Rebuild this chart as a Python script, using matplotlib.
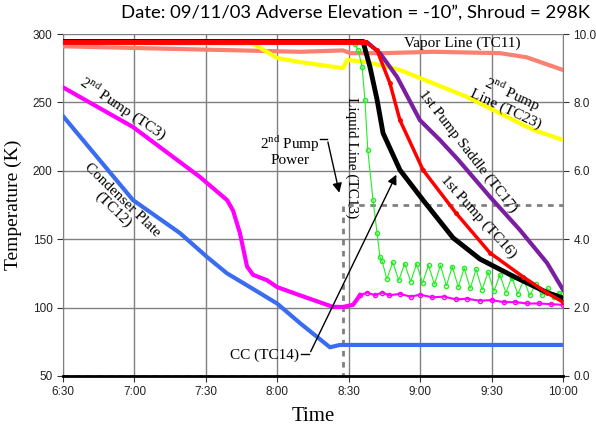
import matplotlib.pyplot as plt
from matplotlib.ticker import FormatStrFormatter

plt.rcParams['mathtext.fontset'] = 'custom'
plt.rcParams['mathtext.rm'] = 'Liberation Serif'

# time in minutes after 6:30
tick_minutes = [0, 30, 60, 90, 120, 150, 180, 210]
tick_labels = ['6:30', '7:00', '7:30', '8:00', '8:30', '9:00', '9:30', '10:00']

vapor_t = [0, 99.5, 117.6, 120.7, 134.4, 155.4, 183.5, 194.7, 210]
vapor_v = [291, 287, 288, 286, 286, 287, 286, 283, 273.7]

line23_t = [0, 79.8, 89.9, 99.5, 117.6, 119.3, 127.7, 141.5, 155.4, 169.7, 183.5, 197.4, 210]
line23_v = [293.6, 293, 282.5, 279.5, 275, 281, 279.5, 273.7, 264, 254, 242, 230, 222.5]

saddle_t = [0, 126, 127.7, 133.1, 140.3, 149.9, 158.3, 166, 179.3, 191.9, 203.3, 210]
saddle_v = [294.5, 294.5, 294, 286, 268.6, 237, 222.5, 208, 181, 156.7, 132.6, 113]

cc_t = [0, 126, 128.9, 131.9, 134.4, 141.5, 151.2, 163.8, 175.1, 189, 203.3, 210]
cc_v = [294.5, 294.5, 276, 252, 227.6, 200.6, 178.6, 151, 135.5, 123, 111, 107]

pump1_t = [0, 126.8, 131.9, 137.3, 141.5, 151.2, 165.1, 179.3, 193.2, 203.3, 210]
pump1_v = [294.5, 294.5, 288, 264, 237, 200.6, 169, 140, 122.5, 110.7, 104]

liquid_t = [0, 122.6, 124, 125.6, 126.8, 128, 130.2, 131.9, 133.1,
            134, 136, 138.5, 141, 143.5, 146, 148.5, 151, 153.5, 156, 158.5, 161,
            163.5, 166, 168.5, 171, 173.5, 176, 178.5, 181, 183.5, 186, 188.5, 191,
            193.5, 196, 198.5, 201, 203.5, 206, 208.5, 210]
liquid_v = [294, 293, 288, 276, 252, 215, 178.6, 154.5, 137,
            134, 121, 133, 120, 132, 119, 132, 118, 131, 117, 131, 116,
            130, 115, 129, 114, 128, 113, 126, 112, 124, 111, 122, 110,
            120, 109, 117, 109, 114, 108, 111, 108]

pump2_t = [0, 29.4, 57.5, 68.9, 71.4, 74.3, 77.3, 79.8, 85.7, 89.9, 99.5, 113.4, 117.6, 121.8, 124.7]
pump2_v = [261, 232, 195.5, 178.6, 171, 154.5, 130, 124, 120, 115, 109, 100.5, 100.5, 102, 109]
pump2_band_t = [124.7, 127.7, 131, 134, 137, 141.5, 146, 150, 155, 160, 165, 169.7, 175, 180, 185, 190, 195, 200, 205, 210]
pump2_band_v = [109, 111, 109, 111, 109, 110, 108, 109.5, 107.5, 108, 106, 106.5, 105, 105.5, 104, 104, 103, 103, 102.5, 102]

plate_t = [0, 29.4, 49.1, 60.5, 68.9, 78.5, 89.9, 99.5, 112.1, 116.3, 210]
plate_v = [240, 178.6, 154.5, 137, 125, 115, 103, 88.7, 71, 72.7, 72.7]

power_t = [0, 117.6, 117.6, 210]
power_v = [0, 0, 5.0, 5.0]

fig = plt.figure(figsize=(5.96, 4.30), dpi=100)
ax = fig.add_axes([0.1057, 0.1256, 0.839, 0.7953])
ax2 = ax.twinx()
ax.set_zorder(ax2.get_zorder() + 1)
ax.patch.set_visible(False)

serif = 'Liberation Serif'

ax.plot(vapor_t, vapor_v, color='#fa8072', lw=3, zorder=3)
ax.plot(line23_t, line23_v, color='#ffff00', lw=3, zorder=3)
ax.plot(plate_t, plate_v, color='#3a6cf0', lw=3, zorder=3)
ax.plot(pump2_t, pump2_v, color='#ff00ff', lw=3, zorder=3)
ax.plot(pump2_band_t, pump2_band_v, color='#ff00ff', lw=1.5, marker='o', ms=3, mfc='none', zorder=3)
ax.plot(liquid_t, liquid_v, color='#22ee22', lw=0.8, marker='o', ms=3, mfc='none', zorder=4)
ax.plot(saddle_t, saddle_v, color='#7b1fa2', lw=3, zorder=4)
ax.plot(cc_t, cc_v, color='black', lw=3.5, zorder=5)
ax.plot(pump1_t, pump1_v, color='#ff0000', lw=2.5, marker='o', ms=2.5, mfc='none', zorder=6)
ax.plot(pump1_t[:2], pump1_v[:2], color='#ff0000', lw=3.5, zorder=7)

ax2.plot(power_t, power_v, color='#808080', lw=2, ls=(0, (2, 2)))

ax.set_xlim(0, 210)
ax.set_ylim(50, 300)
ax.set_yticks([50, 100, 150, 200, 250, 300])
ax.set_xticks(tick_minutes)
ax.set_xticklabels(tick_labels)
ax2.set_ylim(0, 10)
ax2.set_yticks([0, 2, 4, 6, 8, 10])
ax2.yaxis.set_major_formatter(FormatStrFormatter('%.1f'))

ax.grid(True, color='#808080', lw=1)
for a in (ax, ax2):
    a.tick_params(labelsize=8.5, direction='out', length=4, colors='#333333', labelcolor='#222222')
    for lab in a.get_xticklabels() + a.get_yticklabels():
        lab.set_family('Liberation Sans')
ax.spines['top'].set_visible(False)
ax2.spines['top'].set_visible(False)
ax.spines['right'].set_visible(False)
ax2.spines['left'].set_visible(False)
ax2.spines['bottom'].set_visible(False)
ax.spines['left'].set_color('#808080')
ax2.spines['right'].set_color('#808080')
ax.spines['bottom'].set_linewidth(2)

ax.set_xlabel('Time', fontsize=15, family=serif, labelpad=6)
ax.set_ylabel('Temperature (K)', fontsize=14, family=serif, labelpad=8)
fig.suptitle('Date: 09/11/03 Adverse Elevation = -10\u201d, Shroud = 298K',
             x=0.596, y=0.99, fontsize=13.3, family='Lato')

tkw = dict(family=serif, fontsize=11, ha='center', va='center', zorder=8)
ax.text(167.6, 293.4, 'Vapor Line (TC11)', **tkw)
ax.text(187.7, 251.8, '2$^{\\rm nd}$ Pump\nLine (TC23)', rotation=-25, linespacing=0.95, **tkw)
ax.text(170, 214, '1st Pump Saddle (TC17)', rotation=-52, **tkw)
ax.text(174.5, 166, '1st Pump (TC16)', rotation=-48, **tkw)
ax.text(121.4, 210, 'Liquid Line (TC13)', rotation=-90, **tkw)
ax.text(25.5, 246, '2$^{\\rm nd}$ Pump (TC3)', rotation=-34, **tkw)
ax.text(23, 175, 'Condenser Plate\n(TC12)', rotation=-44, linespacing=0.95, **tkw)
ax.text(95.3, 215, '2$^{\\rm nd}$ Pump\nPower', linespacing=0.95, **tkw)
ax.text(84.8, 65.3, 'CC (TC14)', **tkw)

ax.plot([108, 111], [223, 223], color='black', lw=1, zorder=8)
ax.annotate('', xy=(116.3, 182), xytext=(111, 223),
            arrowprops=dict(arrowstyle='-|>', color='black', lw=1, mutation_scale=14), zorder=8)
ax.plot([100, 103.5], [66, 66], color='black', lw=1, zorder=8)
ax.annotate('', xy=(140.5, 199), xytext=(103.5, 66),
            arrowprops=dict(arrowstyle='-|>', color='black', lw=1, mutation_scale=14), zorder=8)

fig.savefig('out.png', dpi=100)
